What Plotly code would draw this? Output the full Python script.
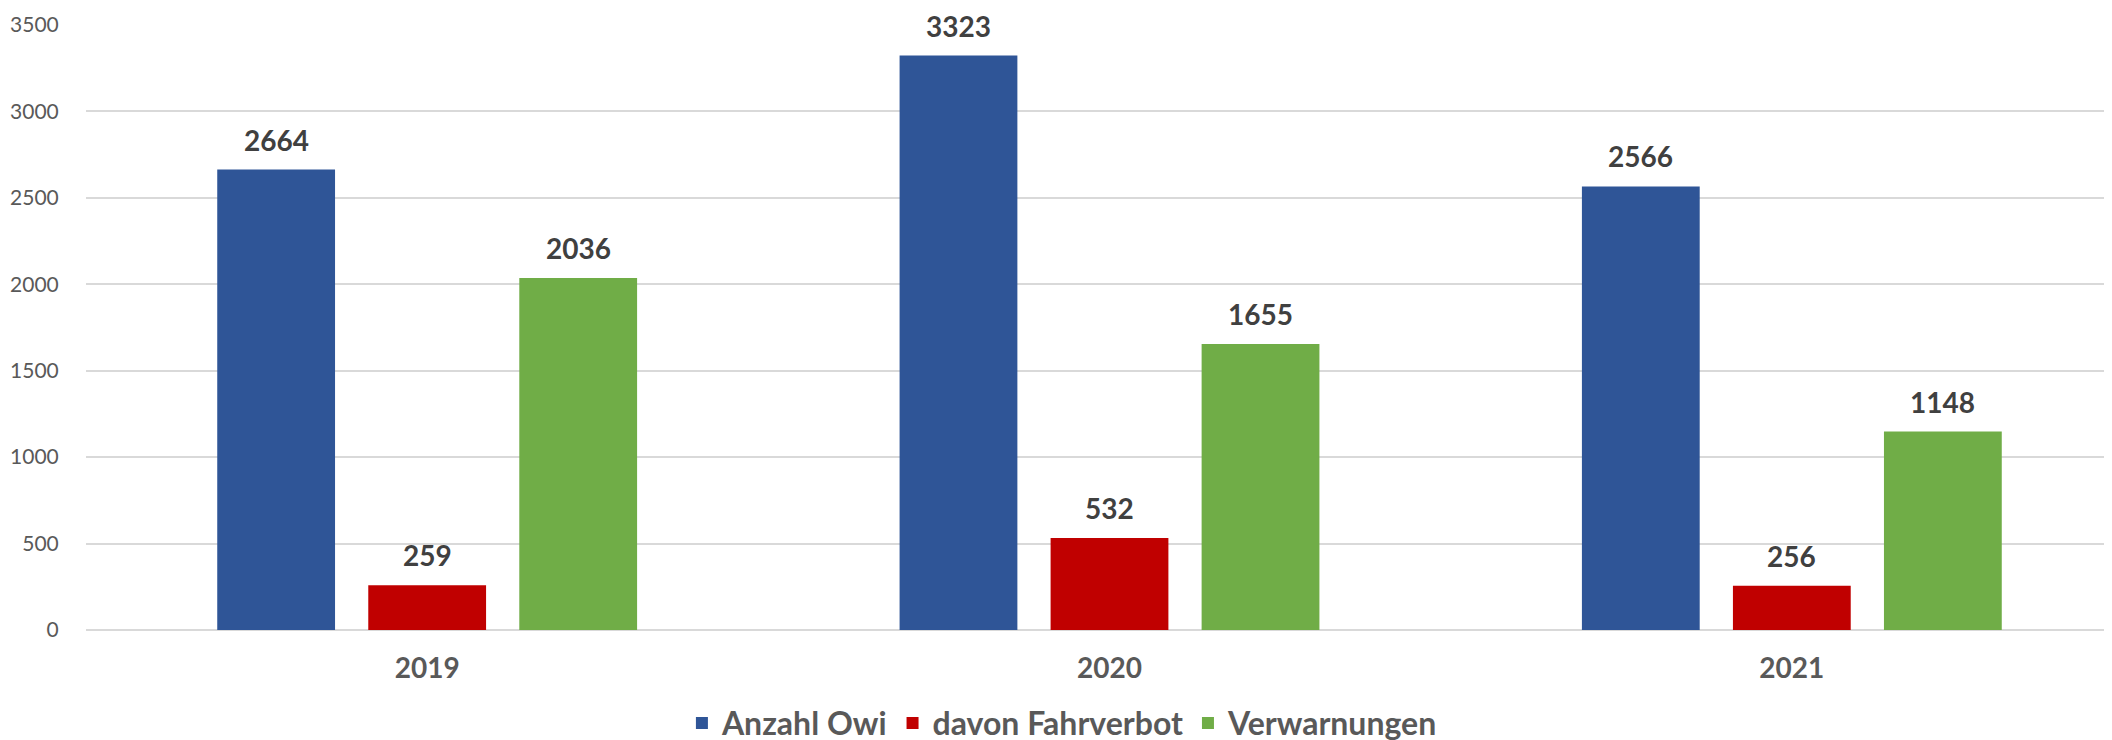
import plotly.graph_objects as go

# Werte aus dem Diagramm
jahre = ["2019", "2020", "2021"]
anzahl_owi = [2664, 3323, 2566]
fahrverbot = [259, 532, 256]
verwarnungen = [2036, 1655, 1148]

serien = [
    ("Anzahl Owi", anzahl_owi, "#2F5597"),
    ("davon Fahrverbot", fahrverbot, "#C00000"),
    ("Verwarnungen", verwarnungen, "#70AD47"),
]

BARGAP = 0.336
FONT = "Lato"

fig = go.Figure()
for name, werte, farbe in serien:
    fig.add_trace(go.Bar(x=jahre, y=werte, name=f"<b>{name}</b>",
                         marker_color=farbe, marker_line_width=0))

# Datenbeschriftungen über den Balken
slot = (1 - BARGAP) / len(serien)
for i, (name, werte, farbe) in enumerate(serien):
    versatz = (i - (len(serien) - 1) / 2) * slot
    for j, wert in enumerate(werte):
        fig.add_annotation(x=j + versatz, y=wert, text=f"<b>{wert}</b>",
                           showarrow=False, yanchor="bottom", yshift=11,
                           font=dict(family=FONT, size=28, color="#404040"))

# die Seite hat 8px Rand; der Plotbereich läuft rechts über das Fenster hinaus
fig.update_layout(
    width=2135, height=740,
    margin=dict(l=78, r=10, t=17, b=118, autoexpand=False),
    paper_bgcolor="white", plot_bgcolor="white",
    barmode="group", bargap=BARGAP, bargroupgap=0.22,
    font=dict(family=FONT, color="#595959"),
    showlegend=True,
    legend=dict(orientation="h", x=0.477, xanchor="center",
                y=-0.154, yanchor="middle",
                font=dict(family=FONT, size=32, color="#595959"),
                itemwidth=30, traceorder="normal"),
)
fig.update_xaxes(type="category", showgrid=False, showline=False,
                 ticks="outside", ticklen=13, tickcolor="rgba(0,0,0,0)",
                 tickfont=dict(family=FONT, size=28, color="#595959", weight="bold"))
fig.update_yaxes(range=[0, 3500], dtick=500, showgrid=True, gridcolor="#D9D9D9",
                 gridwidth=1.5, zeroline=True, zerolinecolor="#D9D9D9",
                 zerolinewidth=1.5, showline=False,
                 ticks="outside", ticklen=22, tickcolor="rgba(0,0,0,0)",
                 tickfont=dict(family=FONT, size=21, color="#595959"))

fig.write_html("out.html")
